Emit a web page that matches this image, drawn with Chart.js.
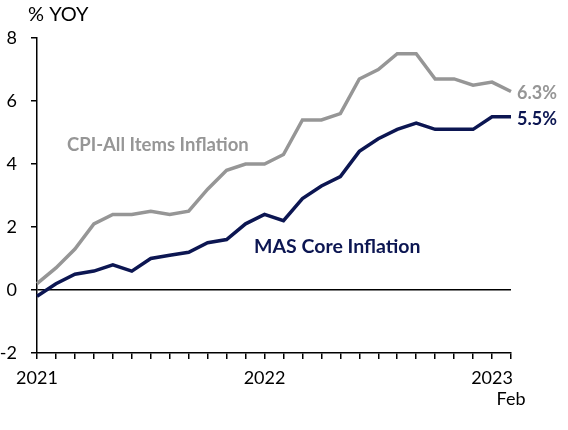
<!DOCTYPE html>
<html lang="en">
<head>
  <meta charset="UTF-8">
  <title>Singapore inflation</title>
  <script src="https://cdn.jsdelivr.net/npm/chart.js@4.4.3/dist/chart.umd.min.js"></script>
  <style>
    html, body { margin: 0; padding: 0; background: #fff; }
    #wrap { width: 568px; height: 430px; position: relative; }
  </style>
</head>
<body>
  <div id="wrap"><canvas id="inflChart"></canvas></div>

  <script>
    // monthly, Jan 2021 - Feb 2023
    const months = [
      'Jan 2021', 'Feb 2021', 'Mar 2021', 'Apr 2021', 'May 2021', 'Jun 2021',
      'Jul 2021', 'Aug 2021', 'Sep 2021', 'Oct 2021', 'Nov 2021', 'Dec 2021',
      'Jan 2022', 'Feb 2022', 'Mar 2022', 'Apr 2022', 'May 2022', 'Jun 2022',
      'Jul 2022', 'Aug 2022', 'Sep 2022', 'Oct 2022', 'Nov 2022', 'Dec 2022',
      'Jan 2023', 'Feb 2023'
    ];
    const cpiAll = [0.2, 0.7, 1.3, 2.1, 2.4, 2.4, 2.5, 2.4, 2.5, 3.2, 3.8, 4.0,
                    4.0, 4.3, 5.4, 5.4, 5.6, 6.7, 7.0, 7.5, 7.5, 6.7, 6.7, 6.5,
                    6.6, 6.3];
    const masCore = [-0.2, 0.2, 0.5, 0.6, 0.8, 0.6, 1.0, 1.1, 1.2, 1.5, 1.6, 2.1,
                     2.4, 2.2, 2.9, 3.3, 3.6, 4.4, 4.8, 5.1, 5.3, 5.1, 5.1, 5.1,
                     5.5, 5.5];
    // which month index gets which tick text
    const xTickText = { 0: '2021', 12: '2022', 24: '2023', 25: ['', 'Feb'] };

    const GREY = '#969696';
    const NAVY = '#0c1652';
    const FONT = 'Lato, "Open Sans", sans-serif';

    // series names and end values, written next to the lines
    const labelsPlugin = {
      id: 'seriesLabels',
      afterDatasetsDraw(chart) {
        const { ctx, scales: { x, y } } = chart;
        const last = months.length - 1;
        ctx.save();
        ctx.textBaseline = 'middle';
        ctx.textAlign = 'left';

        ctx.font = 'bold 18.5px ' + FONT;
        ctx.fillStyle = GREY;
        ctx.fillText('CPI-All Items Inflation', x.getPixelForValue(1.58), y.getPixelForValue(4.6));
        ctx.font = 'bold 19.5px ' + FONT;
        ctx.fillStyle = NAVY;
        ctx.fillText('MAS Core Inflation', x.getPixelForValue(11.45), y.getPixelForValue(1.37));

        ctx.font = 'bold 18px ' + FONT;
        ctx.fillStyle = GREY;
        ctx.fillText(cpiAll[last].toFixed(1) + '%', x.getPixelForValue(last) + 6, y.getPixelForValue(cpiAll[last] - 0.05));
        ctx.fillStyle = NAVY;
        ctx.fillText(masCore[last].toFixed(1) + '%', x.getPixelForValue(last) + 6, y.getPixelForValue(masCore[last] - 0.07));

        ctx.font = '20px ' + FONT;
        ctx.fillStyle = '#000';
        ctx.fillText('% YOY', 28, 15);
        ctx.restore();
      }
    };

    new Chart(document.getElementById('inflChart'), {
      type: 'line',
      data: {
        labels: months,
        datasets: [
          { label: 'CPI-All Items Inflation', data: cpiAll, borderColor: GREY, borderWidth: 3.5 },
          { label: 'MAS Core Inflation', data: masCore, borderColor: NAVY, borderWidth: 3.5 }
        ]
      },
      options: {
        responsive: true,
        maintainAspectRatio: false,
        animation: false,
        layout: { padding: { top: 38, right: 57, bottom: 0, left: 0 } },
        elements: { point: { radius: 0 }, line: { tension: 0 } },
        plugins: { legend: { display: false }, tooltip: { enabled: false } },
        scales: {
          x: {
            offset: false,
            border: { color: '#000', width: 1.5 },
            grid: { drawOnChartArea: false, tickColor: '#000', tickLength: 6, lineWidth: 1.5 },
            ticks: {
              autoSkip: false, maxRotation: 0, padding: 8,
              color: '#000', font: { family: FONT, size: 18 },
              callback: (v, i) => xTickText[i] !== undefined ? xTickText[i] : ''
            },
            afterFit: s => { s.height = 77; }
          },
          y: {
            min: -2, max: 8,
            border: { color: '#000', width: 1.5 },
            grid: {
              tickColor: '#000', tickLength: 6, lineWidth: 1.5,
              color: c => c.tick && c.tick.value === 0 ? '#000' : 'rgba(0,0,0,0)'
            },
            ticks: { stepSize: 2, padding: 14, color: '#000', font: { family: FONT, size: 18 } },
            afterFit: s => { s.width = 37; }
          }
        }
      },
      plugins: [labelsPlugin]
    });
  </script>
</body>
</html>
